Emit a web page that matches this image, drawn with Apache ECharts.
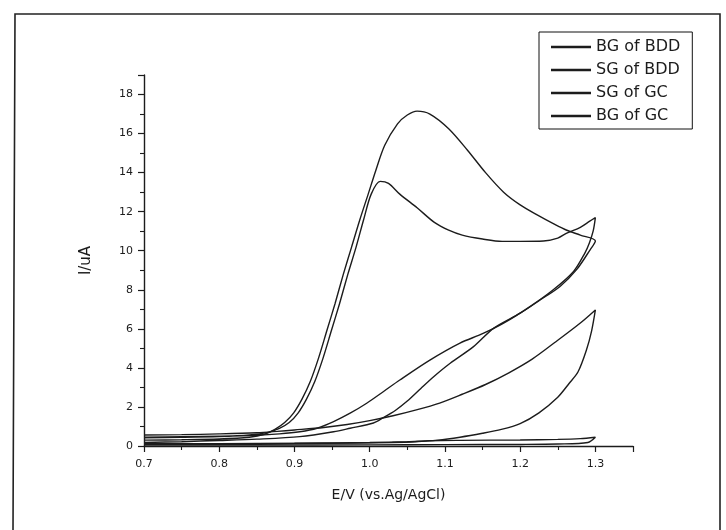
<!DOCTYPE html>
<html>
<head>
<meta charset="utf-8">
<script src="https://cdn.jsdelivr.net/npm/echarts@6/dist/echarts.min.js"></script>
<style>
html,body{margin:0;padding:0;background:#ffffff;}
#chart{width:726px;height:530px;}
</style>
</head>
<body>
<div id="chart"></div>
<script>
// ---- data (E in V vs Ag/AgCl, I in uA), each curve is one full CV loop ----
var seriesNames = ['BG of BDD', 'SG of BDD', 'SG of GC', 'BG of GC'];
var xTickLabels = ['0.7', '0.8', '0.9', '1.0', '1.1', '1.2', '1.3'];
var yTickLabels = ['0', '2', '4', '6', '8', '10', '12', '14', '16', '18'];

var bgBddE = [0.70, 0.80, 0.90, 1.00, 1.05, 1.08, 1.12, 1.20, 1.25, 1.28, 1.30, 1.29, 1.25, 1.20, 1.10, 1.00, 0.85, 0.70];
var bgBddI = [0.10, 0.12, 0.14, 0.18, 0.22, 0.27, 0.29, 0.31, 0.34, 0.38, 0.45, 0.18, 0.10, 0.08, 0.07, 0.06, 0.05, 0.05];

var sgBddE = [0.70, 0.75, 0.80, 0.84, 0.865, 0.880, 0.893, 0.905, 0.916, 0.927, 0.938, 0.949, 0.960, 0.971, 0.982, 0.992, 1.002, 1.014, 1.025, 1.040, 1.063, 1.086, 1.105, 1.123, 1.150, 1.176, 1.200, 1.231, 1.250, 1.262, 1.280, 1.292, 1.300,
              1.297, 1.292, 1.286, 1.271, 1.244, 1.213, 1.178, 1.150, 1.120, 1.080, 1.040, 1.018, 0.996, 0.974, 0.952, 0.930, 0.907, 0.880, 0.850, 0.800, 0.750, 0.700];
var sgBddI = [0.42, 0.44, 0.48, 0.56, 0.70, 0.90, 1.20, 1.70, 2.40, 3.30, 4.50, 5.90, 7.30, 8.80, 10.20, 11.60, 12.90, 13.55, 13.45, 12.90, 12.20, 11.45, 11.05, 10.80, 10.60, 10.48, 10.48, 10.50, 10.65, 10.90, 11.20, 11.50, 11.70,
              11.00, 10.40, 9.88, 8.94, 8.00, 7.14, 6.29, 5.75, 5.27, 4.40, 3.38, 2.78, 2.19, 1.68, 1.25, 0.91, 0.73, 0.62, 0.55, 0.50, 0.47, 0.45];

var sgGcE = [0.70, 0.75, 0.80, 0.84, 0.86, 0.874, 0.887, 0.899, 0.910, 0.921, 0.932, 0.943, 0.954, 0.965, 0.976, 0.987, 0.998, 1.008, 1.020, 1.037, 1.050, 1.063, 1.080, 1.105, 1.130, 1.154, 1.178, 1.200, 1.222, 1.246, 1.262, 1.280, 1.300,
             1.293, 1.275, 1.253, 1.227, 1.200, 1.165, 1.138, 1.107, 1.085, 1.068, 1.050, 1.034, 1.018, 1.005, 0.974, 0.952, 0.907, 0.850, 0.800, 0.750, 0.700];
var sgGcI = [0.30, 0.32, 0.36, 0.45, 0.60, 0.85, 1.20, 1.70, 2.40, 3.30, 4.50, 5.90, 7.30, 8.80, 10.20, 11.60, 12.90, 14.10, 15.40, 16.50, 16.95, 17.15, 17.00, 16.25, 15.15, 14.00, 13.00, 12.35, 11.85, 11.35, 11.05, 10.80, 10.50,
             10.05, 9.03, 8.17, 7.49, 6.80, 6.04, 5.09, 4.24, 3.55, 2.95, 2.30, 1.82, 1.45, 1.18, 0.91, 0.73, 0.48, 0.35, 0.28, 0.22, 0.18];

var bgGcE = [0.70, 0.80, 0.90, 0.98, 1.03, 1.06, 1.09, 1.12, 1.15, 1.175, 1.200, 1.225, 1.250, 1.265, 1.277, 1.288, 1.295, 1.300,
             1.280, 1.246, 1.216, 1.185, 1.154, 1.123, 1.093, 1.062, 1.031, 1.000, 0.970, 0.939, 0.900, 0.877, 0.850, 0.800, 0.750, 0.700];
var bgGcI = [0.12, 0.12, 0.13, 0.15, 0.18, 0.22, 0.30, 0.45, 0.65, 0.85, 1.15, 1.70, 2.50, 3.20, 3.80, 4.90, 5.90, 6.97,
             6.30, 5.30, 4.45, 3.75, 3.15, 2.65, 2.20, 1.85, 1.55, 1.30, 1.10, 0.95, 0.82, 0.75, 0.68, 0.62, 0.58, 0.56];

function pairs(e, i) { return e.map(function (v, k) { return [v, i[k]]; }); }
var curves = [pairs(bgBddE, bgBddI), pairs(sgBddE, sgBddI), pairs(sgGcE, sgGcI), pairs(bgGcE, bgGcI)];

var FONT = 'DejaVu Sans';
var INK = '#1c1c1c';

var chart = echarts.init(document.getElementById('chart'), null, {renderer: 'canvas'});
chart.setOption({
  animation: false,
  backgroundColor: '#ffffff',
  graphic: [{
    type: 'polyline',
    shape: {points: [[13, 530], [15, 14], [720, 14], [720, 530]]},
    style: {stroke: '#222', lineWidth: 1.6, fill: null},
    silent: true
  }],
  legend: {
    orient: 'vertical',
    left: 539, top: 32,
    data: seriesNames,
    icon: 'rect',
    itemWidth: 40, itemHeight: 2.5,
    itemGap: 7,
    padding: [7, 12, 5, 12],
    borderColor: '#111', borderWidth: 1,
    backgroundColor: '#fff',
    textStyle: {fontFamily: FONT, fontSize: 16, color: INK}
  },
  grid: {left: 144, right: 93, top: 75, bottom: 84, containLabel: false},
  xAxis: {
    type: 'value',
    min: 0.7, max: 1.35, interval: 0.1,
    name: 'E/V (vs.Ag/AgCl)',
    nameLocation: 'middle', nameGap: 42,
    nameTextStyle: {fontFamily: FONT, fontSize: 14, color: INK},
    axisLine: {show: true, onZero: false, lineStyle: {color: INK, width: 1.4}},
    axisTick: {show: true, inside: false, length: 6, lineStyle: {color: INK, width: 1.2}},
    minorTick: {show: true, splitNumber: 2, length: 4, lineStyle: {color: INK, width: 1.1}},
    axisLabel: {
      fontFamily: FONT, fontSize: 11, color: INK, margin: 13, showMaxLabel: false,
      formatter: function (v) {
        var k = Math.round((v - 0.7) * 10);
        return xTickLabels[k] !== undefined && Math.abs(v - (0.7 + k * 0.1)) < 1e-6 ? xTickLabels[k] : '';
      }
    },
    splitLine: {show: false}
  },
  yAxis: {
    type: 'value',
    min: 0, max: 19, interval: 2,
    name: 'I/uA',
    nameLocation: 'middle', nameGap: 50, nameRotate: 90,
    nameTextStyle: {fontFamily: FONT, fontSize: 15, color: INK},
    axisLine: {show: true, onZero: false, lineStyle: {color: INK, width: 1.4}},
    axisTick: {show: true, inside: false, length: 6, lineStyle: {color: INK, width: 1.2}},
    minorTick: {show: true, splitNumber: 2, length: 4, lineStyle: {color: INK, width: 1.1}},
    axisLabel: {
      fontFamily: FONT, fontSize: 11, color: INK, margin: 11, showMaxLabel: false,
      formatter: function (v) { var k = Math.round(v / 2); return (Math.abs(v - k * 2) < 1e-6 && yTickLabels[k] !== undefined) ? yTickLabels[k] : ''; }
    },
    splitLine: {show: false}
  },
  series: curves.map(function (d, idx) {
    return {
      name: seriesNames[idx],
      type: 'line',
      data: d,
      showSymbol: false,
      symbol: 'none',
      smooth: 0.3,
      color: INK,
      lineStyle: {color: INK, width: 1.4},
      z: 3
    };
  })
});
</script>
</body>
</html>
